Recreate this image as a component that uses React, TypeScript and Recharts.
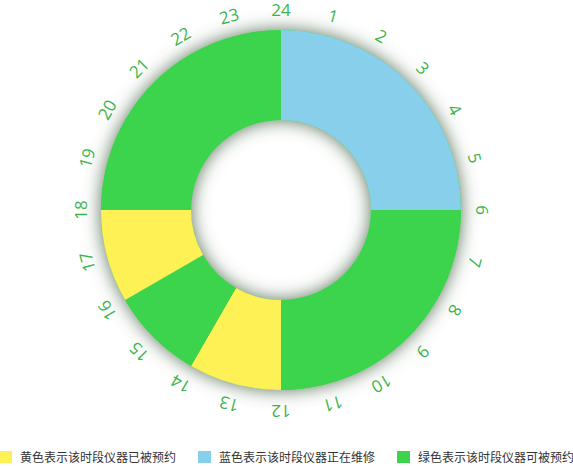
import React from 'react';
import { PieChart, Pie, Cell, Legend } from 'recharts';

const hours = ['1','2','3','4','5','6','7','8','9','10','11','12','13','14','15','16','17','18','19','20','21','22','23','24'];
// status per hour: 'maint' = blue, 'free' = green, 'booked' = yellow
const hourStatus = [
  'maint','maint','maint','maint','maint','maint',
  'free','free','free','free','free','free',
  'booked','booked',
  'free','free',
  'booked','booked',
  'free','free','free','free','free','free',
];
const statusKeys = ['booked', 'maint', 'free'];
const statusLabels = ['黄色表示该时段仪器已被预约', '蓝色表示该时段仪器正在维修', '绿色表示该时段仪器可被预约'];
const statusColors: Record<string, string> = { booked: '#fdf155', maint: '#87cfeb', free: '#3dd44d' };

const hourData = hours.map((h, i) => ({ name: h, value: 1, status: hourStatus[i] }));
// merge consecutive hours with same status into drawn blocks
const blocks: { status: string; value: number }[] = [];
hourData.forEach((d) => {
  const last = blocks[blocks.length - 1];
  if (last && last.status === d.status) last.value += d.value;
  else blocks.push({ status: d.status, value: d.value });
});
const ringData = [{ name: 'ring', value: 1 }];

const RAD = Math.PI / 180;

const renderLabel = (props: any) => {
  const { cx, cy, endAngle, index } = props;
  const r = 201;
  const x = cx + r * Math.cos(-endAngle * RAD);
  const y = cy + r * Math.sin(-endAngle * RAD);
  const rot = 90 - endAngle;
  return (
    <text
      key={`lbl-${index}`}
      x={x}
      y={y}
      fill="#3cb44b"
      fontSize={17}
      fontFamily="'Open Sans', 'Noto Sans', sans-serif"
      textAnchor="middle"
      dominantBaseline="central"
      transform={`rotate(${rot}, ${x}, ${y})`}
    >
      {hours[index]}
    </text>
  );
};

const LegendContent = () => (
  <div style={{ display: 'flex', whiteSpace: 'nowrap', fontFamily: "'Noto Sans CJK SC', sans-serif", fontSize: 12, color: '#333', marginLeft: -1 }}>
    {statusKeys.map((k, i) => (
      <div key={k} style={{ width: 199, flex: 'none', display: 'flex', alignItems: 'center' }}>
        <span style={{ display: 'inline-block', width: 13, height: 12, background: statusColors[k], marginRight: 8 }} />
        <span>{statusLabels[i]}</span>
      </div>
    ))}
  </div>
);

export default function App() {
  return (
    <div style={{ position: 'absolute', left: 0, top: 0, width: 573, height: 466, background: '#fff', overflow: 'hidden' }}>
      <PieChart width={573} height={466} margin={{ top: 0, right: 0, bottom: 0, left: 0 }}>
        <defs>
          <filter id="glow" x="-30%" y="-30%" width="160%" height="160%">
            <feDropShadow dx="0" dy="0" stdDeviation="9" floodColor="#4a634a" floodOpacity="0.9" />
          </filter>
        </defs>
        <Pie
          data={ringData}
          dataKey="value"
          cx={281}
          cy={210}
          innerRadius={90}
          outerRadius={180}
          startAngle={90}
          endAngle={-270}
          stroke="none"
          isAnimationActive={false}
        >
          <Cell fill="#3dd44d" style={{ filter: 'url(#glow)' }} />
        </Pie>
        <Pie
          data={blocks}
          dataKey="value"
          cx={281}
          cy={210}
          innerRadius={90}
          outerRadius={180}
          startAngle={90}
          endAngle={-270}
          stroke="none"
          isAnimationActive={false}
        >
          {blocks.map((b, i) => (
            <Cell key={i} fill={statusColors[b.status]} />
          ))}
        </Pie>
        <Pie
          data={hourData}
          dataKey="value"
          cx={281}
          cy={210}
          innerRadius={180}
          outerRadius={180}
          startAngle={90}
          endAngle={-270}
          fill="none"
          stroke="none"
          isAnimationActive={false}
          label={renderLabel}
          labelLine={false}
        />
        <Legend
          content={LegendContent}
          wrapperStyle={{ position: 'absolute', left: 0, top: 448, width: 620 }}
        />
      </PieChart>
    </div>
  );
}
